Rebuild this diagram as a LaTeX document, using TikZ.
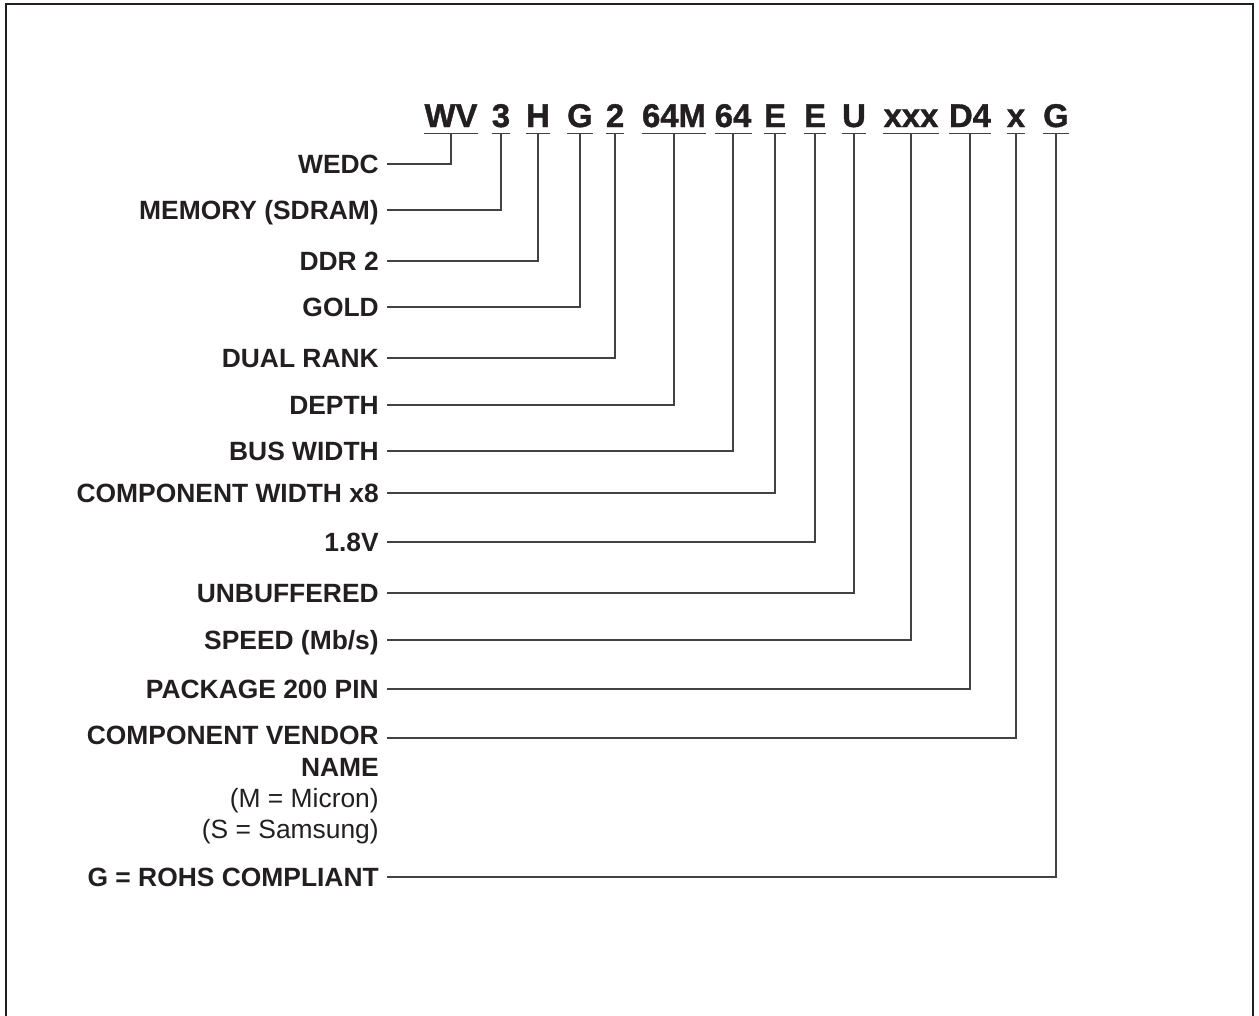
\documentclass[tikz,border=0pt]{standalone}
\usepackage{fontspec}
\setmainfont{Liberation Sans}
\newfontfamily\codefont{Liberation Sans}[BoldFeatures={FakeBold=1.2}]
\usetikzlibrary{positioning}
\definecolor{PartInk}{HTML}{231F20}

\begin{document}
\begin{tikzpicture}[
  x=0.75pt,
  y=-0.75pt,
  codechar/.style={font=\codefont\fontsize{24.6}{30}\selectfont\bfseries, anchor=base, inner xsep=0pt, inner ysep=4.5pt, text depth=0pt, text=PartInk},
  partlabel/.style={font=\fontsize{19.8}{23.5}\selectfont\bfseries, anchor=east, inner xsep=6pt, inner ysep=0pt, text height=13.5pt, text depth=0pt, text=PartInk},
  vendorlabel/.style={font=\fontsize{19.8}{23.5}\selectfont\bfseries, anchor=north east, align=right, inner xsep=6pt, inner ysep=0pt, text=PartInk},
  lead/.style={draw=PartInk!85, line width=1pt}
]
\useasboundingbox (0,0) rectangle (1259,1015);
\draw[PartInk, line width=1.5pt] (6,1016) -- (6,4) -- (1253,4) -- (1253,1016);
% part number fields
\foreach \n/\x/\lab in {
  wv/451/WV, mem/501/3, ddr/538/H, gold/580/G, rank/615/2,
  depth/674/64M, bus/733/64, comp/775/E, volt/815/E, buf/854/U,
  speed/911/xxx, pkg/970/D4, vend/1016/x, rohs/1056/G
} {
  \node[codechar] (\n) at (\x,127) {\lab};
  \draw[lead] (\n.south west) -- (\n.south east);
}
% field descriptions
\foreach \n/\y/\lab in {
  wv/164/WEDC,
  mem/210/{MEMORY (SDRAM)},
  ddr/261/DDR 2,
  gold/307/GOLD,
  rank/358/DUAL RANK,
  depth/405/DEPTH,
  bus/451/BUS WIDTH,
  comp/493/COMPONENT WIDTH x8,
  volt/542/1.8V,
  buf/593/UNBUFFERED,
  speed/640/{SPEED (Mb/s)},
  pkg/689/PACKAGE 200 PIN,
  rohs/877/G = ROHS COMPLIANT
} {
  \node[partlabel] (l\n) at (387,\y) {\lab};
  \draw[lead] (\n.south) |- (l\n.east);
}
\node[vendorlabel] (lvend) at (387,726) {COMPONENT VENDOR\\NAME\\\mdseries (M = Micron)\\\mdseries (S = Samsung)};
\draw[lead] (vend.south) |- ([yshift=-9pt]lvend.north east);
\end{tikzpicture}
\end{document}
